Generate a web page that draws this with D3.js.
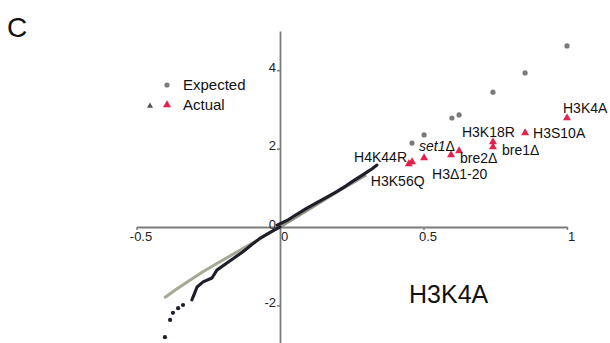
<!DOCTYPE html>
<html>
<head>
<meta charset="utf-8">
<script src="https://cdn.jsdelivr.net/npm/d3@7"></script>
<style>
  html, body { margin: 0; padding: 0; background: #fff; }
  svg { display: block; font-family: "Liberation Sans", Arial, sans-serif; }
</style>
</head>
<body>
<svg id="chart" width="610" height="343"></svg>
<script>
// Axis ticks
const xTicks = [-0.5, 0, 0.5, 1];
const yTicks = [-2, 0, 2, 4];

// Expected values (bulk near the origin, then the mutant positions)
const expectedNeg = [[0, 0], [-0.05, -0.21], [-0.105, -0.45], [-0.16, -0.68], [-0.22, -0.93], [-0.27, -1.15], [-0.314, -1.36], [-0.36, -1.58], [-0.40, -1.79]];
const expectedPos = [[0, 0], [0.1, 0.45], [0.2, 0.9], [0.3, 1.33]];
const expectedTop = [[0.46, 2.14], [0.502, 2.35], [0.599, 2.78], [0.624, 2.86], [0.742, 3.44], [0.854, 3.93], [1.0, 4.62]];

// Actual values, bulk of strains
const actualPos = [[-0.01, 0.05], [0.03, 0.19], [0.06, 0.33], [0.094, 0.48], [0.13, 0.63], [0.165, 0.77], [0.199, 0.91], [0.23, 1.05], [0.254, 1.17], [0.28, 1.29], [0.303, 1.40], [0.32, 1.48], [0.338, 1.58]];
const actualNeg = [[0, 0], [-0.03, -0.12], [-0.07, -0.29], [-0.10, -0.46], [-0.129, -0.63], [-0.16, -0.79], [-0.185, -0.92], [-0.22, -1.10], [-0.237, -1.30], [-0.268, -1.40], [-0.289, -1.53], [-0.296, -1.66], [-0.307, -1.86]];
const actualTail = [[-0.338, -1.99], [-0.355, -2.07], [-0.373, -2.19], [-0.383, -2.37], [-0.401, -2.81]];

// Actual values, highlighted mutants
const mutantNames = ["H3K56Q", "H4K44R", "set1Δ", "H3Δ1-20", "bre2Δ", "bre1Δ", "H3K18R", "H3S10A", "H3K4A"];
const mutantX = [0.449, 0.46, 0.502, 0.596, 0.624, 0.742, 0.742, 0.854, 1.0];
const mutantY = [1.61, 1.66, 1.76, 1.84, 1.94, 2.04, 2.17, 2.40, 2.78];

// Label placement relative to each marker (pixels)
const labelPlacement = {
  "H3K56Q": { dx: -38, dy: 22, anchor: "start" },
  "H4K44R": { dx: -5, dy: 0, anchor: "end" },
  "set1Δ": { dx: -5, dy: -7, anchor: "start" },
  "H3Δ1-20": { dx: -19, dy: 24, anchor: "start" },
  "bre2Δ": { dx: 1, dy: 12, anchor: "start" },
  "bre1Δ": { dx: 9, dy: 8, anchor: "start" },
  "H3K18R": { dx: -31, dy: -5, anchor: "start" },
  "H3S10A": { dx: 8, dy: 5, anchor: "start" },
  "H3K4A": { dx: -4, dy: -5, anchor: "start" }
};

const svg = d3.select("#chart");
const x = d3.scaleLinear().domain([-0.5, 1]).range([136.5, 567]);
const y = d3.scaleLinear().domain([-3, 5]).range([344.6, 31]);

const axisColor = "#7d7d7d";

// Horizontal axis through y = 0
const gx = svg.append("g").attr("transform", `translate(0,${y(0)})`)
  .call(d3.axisBottom(x).tickValues(xTicks).tickSize(3).tickSizeOuter(0)
    .tickFormat(d => d === 0 ? "0" : String(d)));
gx.select(".domain").attr("stroke", axisColor).attr("stroke-width", 1.8);
gx.selectAll(".tick line").attr("stroke", axisColor).attr("stroke-width", 1.5);
gx.selectAll(".tick text").attr("font-size", 13).attr("fill", "#222")
  .attr("font-family", "Liberation Sans, Arial, sans-serif").attr("dx", 4).attr("y", 5);

// Vertical axis through x = 0
const gy = svg.append("g").attr("transform", `translate(${x(0)},0)`)
  .call(d3.axisLeft(y).tickValues(yTicks).tickSize(3).tickSizeOuter(0)
    .tickFormat(d => String(d)));
gy.select(".domain").attr("stroke", axisColor).attr("stroke-width", 1.8);
gy.selectAll(".tick line").attr("stroke", axisColor).attr("stroke-width", 1.5);
gy.selectAll(".tick text").attr("font-size", 13).attr("fill", "#222")
  .attr("font-family", "Liberation Sans, Arial, sans-serif").attr("dy", "0.1em").attr("x", -4);

const line = d3.line().x(d => x(d[0])).y(d => y(d[1]));

// Expected series
const expColor = "#8f9486";
svg.append("path").datum(expectedNeg).attr("d", line)
  .attr("fill", "none").attr("stroke", "#a3a994").attr("stroke-width", 3).attr("stroke-linecap", "round");
svg.append("path").datum(expectedPos).attr("d", line)
  .attr("fill", "none").attr("stroke", expColor).attr("stroke-width", 3);
svg.append("g").selectAll("circle").data(expectedTop).join("circle")
  .attr("cx", d => x(d[0])).attr("cy", d => y(d[1])).attr("r", 2.6).attr("fill", "#7a7a7a");

// Actual series, bulk
const actColor = "#1e1e2a";
[actualPos, actualNeg].forEach(s => {
  svg.append("path").datum(s).attr("d", line)
    .attr("fill", "none").attr("stroke", actColor).attr("stroke-width", 3.1)
    .attr("stroke-linecap", "round").attr("stroke-linejoin", "round");
});
svg.append("g").selectAll("circle").data(actualTail).join("circle")
  .attr("cx", d => x(d[0])).attr("cy", d => y(d[1])).attr("r", 2.1).attr("fill", actColor);

// Actual series, highlighted mutants
const red = "#e3214f";
const tri = d3.symbol().type(d3.symbolTriangle).size(28);
const mutants = mutantNames.map((n, i) => ({ name: n, vx: mutantX[i], vy: mutantY[i] }));
svg.append("g").selectAll("path").data(mutants).join("path")
  .attr("d", tri).attr("fill", red)
  .attr("transform", d => `translate(${x(d.vx)},${y(d.vy)})`);

const labels = svg.append("g").attr("font-size", 14).attr("fill", "#111");
mutants.forEach(d => {
  const p = labelPlacement[d.name];
  const t = labels.append("text")
    .attr("x", x(d.vx) + p.dx).attr("y", y(d.vy) + p.dy)
    .attr("text-anchor", p.anchor);
  if (d.name === "set1Δ") {
    t.append("tspan").attr("font-style", "italic").text("set1");
    t.append("tspan").text("Δ");
  } else {
    t.text(d.name);
  }
});

// Legend
const legend = svg.append("g").attr("font-size", 15).attr("fill", "#111");
legend.append("circle").attr("cx", 167).attr("cy", 85).attr("r", 2.6).attr("fill", "#7a7a7a");
legend.append("text").attr("x", 183).attr("y", 90).text("Expected");
legend.append("path").attr("d", d3.symbol().type(d3.symbolTriangle).size(16))
  .attr("transform", "translate(150,106)").attr("fill", "#555");
legend.append("path").attr("d", tri).attr("transform", "translate(167,105)").attr("fill", red);
legend.append("text").attr("x", 183).attr("y", 110).text("Actual");

// Panel letter and chart title
svg.append("text").attr("x", 7).attr("y", 37).attr("font-size", 28).attr("fill", "#111").text("C");
svg.append("text").attr("x", 409).attr("y", 303).attr("font-size", 25).attr("fill", "#111").text("H3K4A");
</script>
</body>
</html>
